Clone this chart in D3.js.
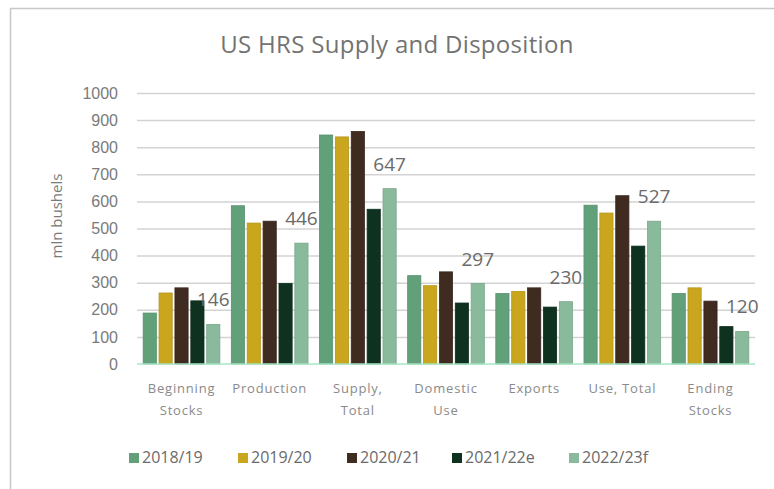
<!DOCTYPE html>
<html>
<head>
<meta charset="utf-8">
<script src="https://cdn.jsdelivr.net/npm/d3@7"></script>
<style>
  body { margin: 0; background: #fff; }
  svg { display: block; font-family: "Open Sans", sans-serif; }
</style>
</head>
<body>
<div id="chart"></div>
<script>
// data (mln bushels)
const categories = ["Beginning Stocks", "Production", "Supply, Total", "Domestic Use", "Exports", "Use, Total", "Ending Stocks"]
const categoryLines = [["Beginning", "Stocks"], ["Production"], ["Supply,", "Total"], ["Domestic", "Use"], ["Exports"], ["Use, Total"], ["Ending", "Stocks"]]
const seasons = ["2018/19", "2019/20", "2020/21", "2021/22e", "2022/23f"]
const v2018 = [188, 584, 845, 326, 260, 586, 260]
const v2019 = [262, 520, 838, 289, 268, 557, 281]
const v2020 = [281, 527, 858, 340, 281, 621, 232]
const v2021 = [233, 297, 571, 225, 210, 435, 138]
const v2022 = [146, 446, 647, 297, 230, 527, 120]
const yTicks = [0, 100, 200, 300, 400, 500, 600, 700, 800, 900, 1000]
const colors = ["#62a07a", "#c9a61e", "#3f2b20", "#0f3220", "#89ba9b"]

const seriesValues = [v2018, v2019, v2020, v2021, v2022]

function drawChart() {

    // 1. dimensions
    let dimensions = {
        width: 774,
        height: 489,
        margin: { top: 93, right: 19, bottom: 125, left: 137 },
    }
    dimensions.boundedWidth = dimensions.width - dimensions.margin.left - dimensions.margin.right
    dimensions.boundedHeight = dimensions.height - dimensions.margin.top - dimensions.margin.bottom

    // 2. canvas
    const wrapper = d3.select("#chart")
      .append("svg")
        .attr("width", dimensions.width)
        .attr("height", dimensions.height)

    // frame (left + top edges only show)
    wrapper.append("path")
        .attr("d", "M10.5,489 V8.5 H774")
        .attr("fill", "none")
        .attr("stroke", "#c8c8c8")
        .attr("stroke-width", 1.5)

    const bounds = wrapper.append("g")
        .attr("transform", `translate(${dimensions.margin.left},${dimensions.margin.top})`)

    // 3. scales
    const x0 = d3.scaleBand()
        .domain(categories)
        .range([0, dimensions.boundedWidth])
        .paddingInner(0.13)
        .paddingOuter(0.07)

    const x1 = d3.scaleBand()
        .domain(seasons)
        .range([0, x0.bandwidth()])
        .paddingInner(0.17)

    const yScale = d3.scaleLinear()
        .domain([0, 1000])
        .range([dimensions.boundedHeight, 0])

    // 4. gridlines + y labels
    const yAxis = bounds.append("g")
        .call(d3.axisLeft(yScale)
            .tickValues(yTicks)
            .tickFormat(d3.format("d"))
            .tickSize(-dimensions.boundedWidth)
            .tickPadding(19))
    yAxis.select(".domain").remove()
    yAxis.selectAll(".tick line")
        .attr("stroke", "#d3d3d3")
        .attr("stroke-width", 1.5)
        .filter(d => d === 0).remove()
    yAxis.selectAll(".tick text")
        .attr("fill", "#7a7a7a")
        .style("font-size", "16px")

    // 5. bars
    const groups = bounds.selectAll(".cat")
        .data(categories)
        .enter()
        .append("g")
        .attr("class", "cat")
        .attr("transform", c => `translate(${x0(c)},0)`)

    groups.selectAll("rect")
        .data((c, i) => seasons.map((s, j) => ({ season: s, value: seriesValues[j][i], color: colors[j] })))
        .enter()
        .append("rect")
        .attr("x", d => x1(d.season))
        .attr("y", d => yScale(d.value))
        .attr("width", x1.bandwidth())
        .attr("height", d => dimensions.boundedHeight - yScale(d.value))
        .attr("fill", d => d.color)
        .attr("stroke", d => d3.color(d.color).darker(0.3))
        .attr("stroke-width", 0.8)

    // data labels on the forecast season only
    groups.append("text")
        .attr("x", x1(seasons[4]) + x1.bandwidth() / 2)
        .attr("y", (c, i) => yScale(v2022[i]) - 18)
        .attr("text-anchor", "middle")
        .attr("fill", "#6a6a6a")
        .style("font-size", "19px")
        .text((c, i) => v2022[i])

    // baseline
    bounds.append("line")
        .attr("x1", 0)
        .attr("x2", dimensions.boundedWidth)
        .attr("y1", yScale(0))
        .attr("y2", yScale(0))
        .attr("stroke", "#a6e6c6")
        .attr("stroke-width", 1.5)

    // 6. category labels
    const catLabels = bounds.selectAll(".catlabel")
        .data(categories)
        .enter()
        .append("text")
        .attr("class", "catlabel")
        .attr("text-anchor", "middle")
        .attr("fill", "#8a8a8a")
        .style("font-size", "13px")
        .style("letter-spacing", "0.8px")
        .attr("transform", c => `translate(${x0(c) + x0.bandwidth() / 2},${dimensions.boundedHeight + 29})`)

    catLabels.selectAll("tspan")
        .data((c, i) => categoryLines[i])
        .enter()
        .append("tspan")
        .attr("x", 0)
        .attr("dy", (d, i) => i === 0 ? 0 : 22)
        .text(d => d)

    // y axis title
    wrapper.append("text")
        .attr("transform", "translate(62,216) rotate(-90)")
        .attr("text-anchor", "middle")
        .attr("fill", "#7a7a7a")
        .style("font-size", "15px")
        .text("mln bushels")

    // chart title
    wrapper.append("text")
        .attr("x", 397)
        .attr("y", 53)
        .attr("text-anchor", "middle")
        .attr("fill", "#737373")
        .style("font-size", "24px")
        .style("letter-spacing", "0.3px")
        .text("US HRS Supply and Disposition")

    // 7. legend
    const legendX = [129, 238, 347, 452, 569]
    const legend = wrapper.selectAll(".legend")
        .data(seasons)
        .enter()
        .append("g")
        .attr("class", "legend")
        .attr("transform", (s, i) => `translate(${legendX[i]},453)`)

    legend.append("rect")
        .attr("width", 10)
        .attr("height", 10)
        .attr("fill", (s, i) => colors[i])

    legend.append("text")
        .attr("x", 13)
        .attr("y", 10)
        .attr("fill", "#6a6a6a")
        .style("font-size", "16px")
        .text(s => s)
}

drawChart()
</script>
</body>
</html>
